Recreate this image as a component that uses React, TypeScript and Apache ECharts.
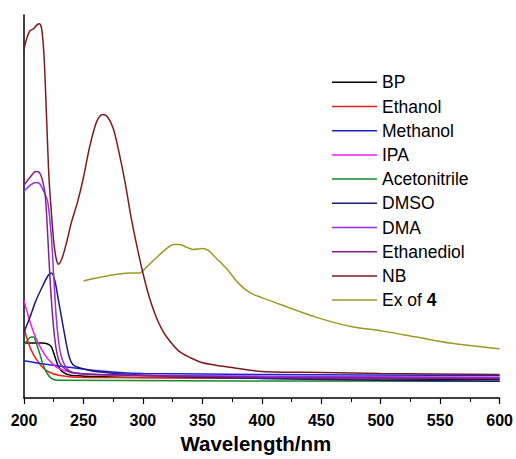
import React, { useEffect, useRef } from "react";
import * as echarts from "echarts";

const names = ["BP", "Ethanol", "Methanol", "IPA", "Acetonitrile", "DMSO", "DMA", "Ethanediol", "NB", "Ex of 4"];
const colors = ["#000000", "#e8201c", "#1f1fd6", "#f01cf0", "#17882a", "#1a1a7a", "#8c33f0", "#86208c", "#7c1a1e", "#9a9a22"];

const bp = [[200,0.56],[205,0.56],[210,0.56],[215,0.56],[220,0.55],[223,0.52],[226,0.42],[229,0.32],[233,0.26],[240,0.23],[300,0.21],[600,0.19]];
const ethanol = [[200,0.71],[203,0.59],[206,0.49],[210,0.40],[215,0.32],[220,0.27],[230,0.23],[250,0.21],[600,0.20]];
const methanol = [[200,0.38],[220,0.34],[240,0.31],[260,0.28],[280,0.26],[300,0.25],[400,0.24],[600,0.23]];
const ipa = [[200,0.99],[203,0.86],[206,0.74],[210,0.61],[215,0.49],[220,0.40],[228,0.31],[240,0.26],[260,0.24],[400,0.22],[600,0.21]];
const acetonitrile = [[200,0.54],[203,0.59],[206,0.62],[208,0.62],[210,0.57],[213,0.46],[216,0.34],[219,0.26],[223,0.20],[228,0.18],[600,0.17]];
const dmso = [[200,0.67],[205,0.82],[210,0.99],[215,1.12],[220,1.24],[223,1.27],[226,1.19],[229,0.99],[232,0.79],[235,0.59],[238,0.42],[241,0.34],[246,0.31],[260,0.27],[300,0.23],[400,0.20],[500,0.18],[600,0.17]];
const dma = [[200,2.10],[205,2.16],[210,2.19],[213,2.18],[217,2.09],[220,1.99],[223,1.64],[225,1.24],[227,0.84],[229,0.59],[231,0.44],[234,0.34],[238,0.28],[245,0.25],[300,0.23],[600,0.21]];
const ethanediol = [[200,2.16],[205,2.24],[210,2.30],[213,2.29],[216,2.19],[218,2.04],[220,1.64],[222,1.19],[224,0.84],[226,0.59],[228,0.44],[230,0.36],[235,0.29],[240,0.26],[260,0.24],[300,0.23],[400,0.21],[600,0.20]];
const nb = [[200,3.54],[202,3.64],[205,3.73],[208,3.75],[211,3.79],[213,3.80],[215,3.74],[217,3.44],[219,2.84],[221,2.24],[223,1.89],[225,1.59],[227,1.42],[229,1.36],[232,1.42],[236,1.59],[240,1.79],[245,1.99],[250,2.24],[255,2.54],[260,2.77],[263,2.85],[266,2.88],[270,2.86],[275,2.74],[280,2.49],[285,2.19],[290,1.84],[295,1.54],[300,1.27],[305,1.04],[310,0.86],[315,0.72],[320,0.62],[330,0.48],[340,0.41],[350,0.36],[375,0.31],[400,0.27],[450,0.26],[500,0.25],[600,0.24]];
const ex4 = [[250,1.19],[265,1.23],[280,1.26],[290,1.27],[297,1.27],[303,1.33],[310,1.41],[320,1.52],[326,1.56],[331,1.56],[337,1.53],[342,1.51],[350,1.52],[355,1.50],[360,1.44],[370,1.32],[380,1.17],[390,1.07],[400,1.02],[418,0.94],[446,0.82],[474,0.73],[502,0.68],[530,0.62],[558,0.56],[600,0.50]];

const seriesData = [bp, ethanol, methanol, ipa, acetonitrile, dmso, dma, ethanediol, nb, ex4];

export default function App() {
  const ref = useRef<HTMLDivElement>(null);
  useEffect(() => {
    if (!ref.current) return;
    const chart = echarts.init(ref.current, null, { renderer: "svg" });
    chart.setOption({
      animation: false,
      backgroundColor: "#ffffff",
      grid: { left: 24, right: 16, top: 15, bottom: 55 },
      xAxis: {
        type: "value",
        min: 200,
        max: 600,
        interval: 50,
        name: "Wavelength/nm",
        nameLocation: "middle",
        nameGap: 29,
        nameTextStyle: { fontFamily: "Liberation Sans", fontWeight: "bold", fontSize: 20.5, color: "#000", padding: [0, 12, 0, 0] },
        axisLine: { lineStyle: { color: "#000", width: 1.5 } },
        axisTick: { length: 6, lineStyle: { color: "#000", width: 1.2 } },
        minorTick: { show: true, splitNumber: 2, length: 4, lineStyle: { color: "#000", width: 1 } },
        axisLabel: { fontFamily: "Liberation Sans", fontWeight: "bold", fontSize: 16, color: "#000", margin: 14 },
        splitLine: { show: false },
      },
      yAxis: {
        type: "value",
        min: 0,
        max: 3.89,
        axisLine: { show: true, lineStyle: { color: "#000", width: 1.5 } },
        axisTick: { show: false },
        axisLabel: { show: false },
        splitLine: { show: false },
      },
      legend: {
        orient: "vertical",
        left: 332,
        top: 73.3,
        padding: 0,
        itemWidth: 45,
        itemHeight: 14,
        itemGap: 6.2,
        icon: "path://M0,0H45V1.5H0Z",
        data: names,
        formatter: (n: string) => (n === "Ex of 4" ? "Ex of {b|4}" : n),
        textStyle: {
          fontFamily: "Liberation Sans",
          fontSize: 17.5,
          lineHeight: 18,
          color: "#000",
          rich: { b: { fontFamily: "Liberation Sans", fontSize: 17.5, lineHeight: 18, fontWeight: "bold", color: "#000" } },
        },
      },
      series: names.map((n, i) => ({
        name: n,
        type: "line",
        data: seriesData[i],
        symbol: "none",
        smooth: 0.3,
        color: colors[i],
        lineStyle: { color: colors[i], width: 1.5 },
        z: i === 8 ? 5 : 2,
      })),
    });
    return () => chart.dispose();
  }, []);
  return <div ref={ref} style={{ position: "absolute", left: 0, top: 0, width: 516, height: 459 }} />;
}
